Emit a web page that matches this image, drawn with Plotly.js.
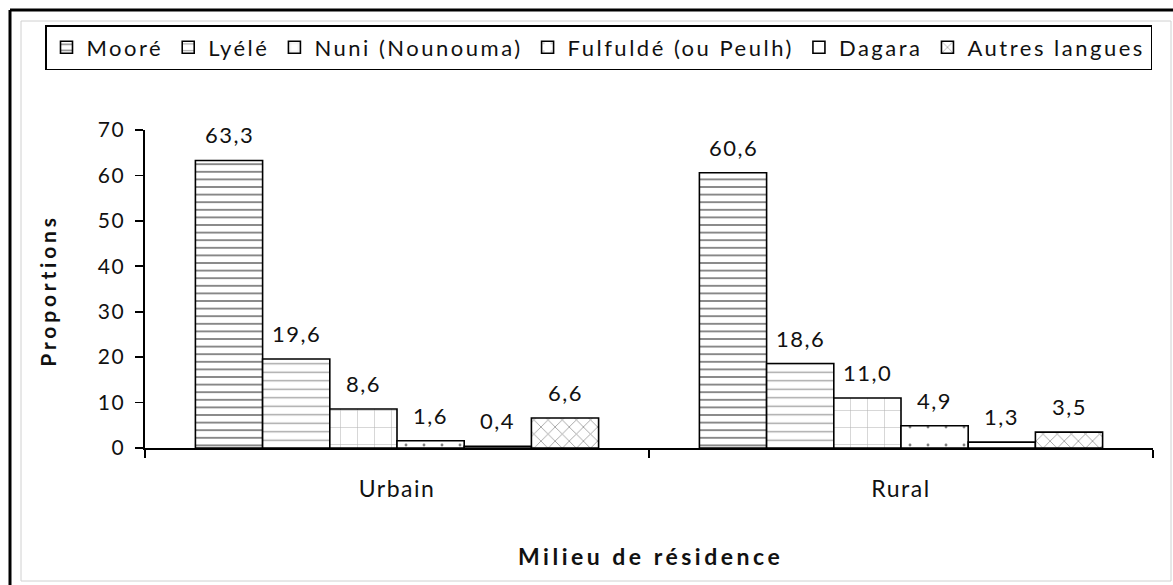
<!DOCTYPE html>
<html>
<head>
<meta charset="utf-8">
<script src="https://cdn.plot.ly/plotly-3.0.1.min.js"></script>
<style>
html,body{margin:0;padding:0;background:#fff;}
#chart{width:1173px;height:585px;}
text{letter-spacing:1.5px;}
.legendtext{letter-spacing:2.5px;}
g.annotation[data-index="12"] text{letter-spacing:3.8px;}
g.annotation[data-index="13"] text{letter-spacing:3.5px;}
</style>
</head>
<body>
<div id="chart"></div>
<script>
// ---- data ----
const categories = ["Urbain", "Rural"];
const seriesNames = ["Mooré", "Lyélé", "Nuni (Nounouma)", "Fulfuldé (ou Peulh)", "Dagara", "Autres langues"];
const moore    = [63.3, 60.6];
const lyele    = [19.6, 18.6];
const nuni     = [8.6, 11.0];
const fulfulde = [1.6, 4.9];
const dagara   = [0.4, 1.3];
const autres   = [6.6, 3.5];
const yTicks   = [0, 10, 20, 30, 40, 50, 60, 70];
const xTitle = "Milieu de résidence";
const yTitle = "Proportions";

const seriesValues = [moore, lyele, nuni, fulfulde, dagara, autres];
const patterns = [
  {shape: "-", size: 7.6, solidity: 0.25, fgcolor: "#111"},
  {shape: "-", size: 8.5, solidity: 0.16, fgcolor: "#444"},
  {shape: "+", size: 17, solidity: 0.06, fgcolor: "#666"},
  {shape: ".", size: 18, solidity: 0.02, fgcolor: "#000"},
  {shape: "", size: 8, solidity: 0.2, fgcolor: "#000"},
  {shape: "x", size: 10, solidity: 0.15, fgcolor: "#222"}
];

const FONT = "Lato, 'Open Sans', sans-serif";
const bargap = 0.2;

const traces = seriesNames.map((name, i) => ({
  type: "bar",
  name: name,
  x: categories,
  y: seriesValues[i],
  marker: {
    color: "#ffffff",
    line: {color: "#000", width: 1.6},
    pattern: Object.assign({bgcolor: "#ffffff", fillmode: "overlay"}, patterns[i])
  },
  hoverinfo: "none"
}));

// layout helpers (pixel -> paper)
const W = 1173, H = 585, mL = 145, mR = 20, mT = 130, mB = 137;
const pw = W - mL - mR, ph = H - mT - mB;
const px = x => (x - mL) / pw;
const py = y => (H - mB - y) / ph;

const annotations = [];
const nS = seriesNames.length;
const groupW = 1 - bargap;
const barW = groupW / nS;
categories.forEach((c, ci) => {
  seriesValues.forEach((vals, si) => {
    annotations.push({
      xref: "x", yref: "y",
      x: ci - groupW / 2 + barW * (si + 0.5),
      y: vals[ci],
      text: vals[ci].toFixed(1).replace(".", ","),
      showarrow: false,
      xanchor: "center",
      yanchor: "bottom",
      yshift: 10,
      font: {family: FONT, size: 22, color: "#111"}
    });
  });
});
annotations.push({
  xref: "paper", yref: "paper", x: px(47), y: py(291),
  xanchor: "center", yanchor: "middle",
  text: "<b>" + yTitle + "</b>", textangle: -90, showarrow: false,
  font: {family: FONT, size: 21, color: "#111"}
});
annotations.push({
  xref: "paper", yref: "paper", x: px(650), y: py(556),
  xanchor: "center", yanchor: "middle",
  text: "<b>" + xTitle + "</b>", showarrow: false,
  font: {family: FONT, size: 23, color: "#111"}
});

const shapes = [
  // outer thick frame (top and left)
  {type: "line", xref: "paper", yref: "paper", x0: px(10), x1: px(1173), y0: py(10), y1: py(10), line: {color: "#000", width: 3}},
  {type: "line", xref: "paper", yref: "paper", x0: px(10), x1: px(10), y0: py(10), y1: py(585), line: {color: "#000", width: 3}},
  // inner thin grey frame
  {type: "rect", xref: "paper", yref: "paper", x0: px(21), x1: px(1171), y0: py(21), y1: py(581), line: {color: "#d0d0d0", width: 1}}
];

const layout = {
  width: W, height: H,
  margin: {l: mL, r: mR, t: mT, b: mB, pad: 0},
  paper_bgcolor: "#fff", plot_bgcolor: "#fff",
  font: {family: FONT, color: "#111", size: 21},
  barmode: "group",
  bargap: bargap,
  bargroupgap: 0,
  showlegend: true,
  legend: {
    orientation: "h",
    x: px(45), y: py(25), xanchor: "left", yanchor: "top",
    bordercolor: "#000", borderwidth: 1.5,
    font: {family: FONT, size: 22, color: "#111"},
    traceorder: "normal",
    itemwidth: 30,
    tracegroupgap: 0
  },
  xaxis: {
    type: "category",
    showline: true, linecolor: "#000", linewidth: 1.6,
    ticks: "outside", tickson: "boundaries", ticklen: 8, tickcolor: "#000", tickwidth: 1.6,
    showgrid: false, zeroline: false,
    tickfont: {family: FONT, size: 23, color: "#111"},
    ticklabelstandoff: 20,
    fixedrange: true
  },
  yaxis: {
    range: [0, 70],
    tickvals: yTicks,
    ticktext: yTicks.map(String),
    showline: true, linecolor: "#000", linewidth: 1.6,
    ticks: "outside", ticklen: 8, tickcolor: "#000", tickwidth: 1.6,
    showgrid: false, zeroline: false,
    tickfont: {family: FONT, size: 21, color: "#111"},
    ticklabelstandoff: 6,
    fixedrange: true
  },
  annotations: annotations,
  shapes: shapes
};

Plotly.newPlot("chart", traces, layout, {staticPlot: true, displayModeBar: false});
</script>
</body>
</html>
